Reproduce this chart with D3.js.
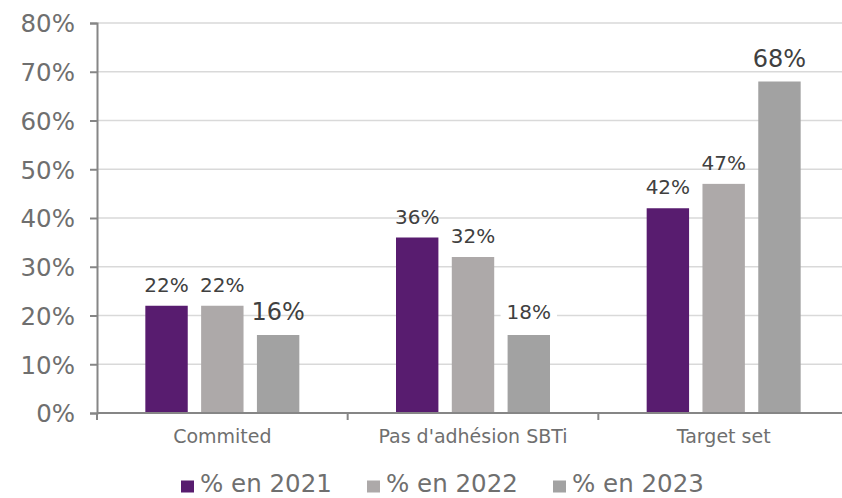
<!DOCTYPE html>
<html><head><meta charset="utf-8">
<script src="https://cdn.jsdelivr.net/npm/d3@7"></script>
<style>body{margin:0;background:#fff}svg{display:block}text{font-family:"DejaVu Sans",Verdana,sans-serif}</style>
</head><body><svg id="c" width="842" height="498"></svg>
<script>
const categories = ["Commited", "Pas d'adhésion SBTi", "Target set"];
const seriesNames = ["% en 2021", "% en 2022", "% en 2023"];
const values2021 = [22, 36, 42];
const values2022 = [22, 32, 47];
const values2023 = [16, 16, 68];
const labels2021 = ["22%", "36%", "42%"];
const labels2022 = ["22%", "32%", "47%"];
const labels2023 = ["16%", "18%", "68%"];
const yTicks = [0, 10, 20, 30, 40, 50, 60, 70, 80];
const colors = ["#581c6f", "#ada9a9", "#a2a2a2"];

const series = [values2021, values2022, values2023];
const labels = [labels2021, labels2022, labels2023];

const svg = d3.select("#c");
const x0 = 97, x1 = 849, yTop = 23, yBot = 413;
const x = d3.scaleBand().domain(categories).range([x0, x1]).padding(0);
const y = d3.scaleLinear().domain([0, 80]).range([yBot, yTop]);
const inner = d3.scaleBand().domain([0,1,2]).range([0, 154]).paddingInner(0.24).paddingOuter(0);
const groupOffset = (x.bandwidth() - 154) / 2;

// gridlines
svg.append("g").selectAll("line").data(yTicks.slice(1)).join("line")
  .attr("x1", x0).attr("x2", 842).attr("y1", d => y(d)).attr("y2", d => y(d))
  .attr("stroke", "#d9d9d9").attr("stroke-width", 1.5);

// bars
const g = svg.append("g");
series.forEach((vals, si) => {
  g.selectAll(null).data(vals).join("rect")
    .attr("x", (d, i) => x(categories[i]) + groupOffset + inner(si))
    .attr("y", d => y(d))
    .attr("width", inner.bandwidth())
    .attr("height", d => yBot - y(d))
    .attr("fill", colors[si]);
});

// left axis
const yAxis = d3.axisLeft(y).tickValues(yTicks).tickFormat(d => d + "%").tickSize(7).tickPadding(15);
const ya = svg.append("g").attr("transform", `translate(${x0},0)`).call(yAxis);
ya.select(".domain").attr("stroke", "#868686").attr("stroke-width", 2);
ya.selectAll(".tick line").attr("stroke", "#868686").attr("stroke-width", 2);
ya.selectAll(".tick text").attr("fill", "#6f6f6f").style("font-size", "24.5px").attr("dy", "0.36em");

// bottom axis
const xa = svg.append("g").attr("transform", `translate(0,${yBot})`)
  .call(d3.axisBottom(x).tickSize(0).tickPadding(17));
xa.select(".domain").attr("stroke", "#868686").attr("stroke-width", 2).attr("d", `M${x0},0H842`);
xa.selectAll(".tick text").attr("fill", "#6f6f6f").style("font-size", "19px");
const bounds = categories.map(c => x(c)).concat([x1]);
xa.append("g").selectAll("line").data(bounds).join("line")
  .attr("x1", d => d).attr("x2", d => d).attr("y1", 0).attr("y2", 7)
  .attr("stroke", "#868686").attr("stroke-width", 2);

// data labels
const bigLabels = [[false,false,false],[false,false,false],[true,false,true]];
const lg = svg.append("g");
series.forEach((vals, si) => {
  vals.forEach((v, i) => {
    const big = bigLabels[si][i];
    const cx = x(categories[i]) + groupOffset + inner(si) + inner.bandwidth() / 2;
    const t = lg.append("text")
      .attr("x", cx).attr("y", y(v) - (big ? 15 : 14) - (si === 2 && i === 1 ? 2 : 0))
      .attr("text-anchor", "middle").attr("fill", "#404040")
      .style("font-size", big ? "24px" : "20px")
      .text(labels[si][i]);
    if (si === 2 && i === 1) {
      const b = t.node().getBBox();
      lg.insert("rect", () => t.node()).attr("x", b.x - 6).attr("y", b.y).attr("width", b.width + 12).attr("height", b.height).attr("fill", "#fff");
    }
  });
});

// legend
const leg = svg.append("g");
const legX = [181, 367, 553];
seriesNames.forEach((n, i) => {
  leg.append("rect").attr("x", legX[i]).attr("y", 480.5).attr("width", 13).attr("height", 12).attr("fill", colors[i]);
  leg.append("text").attr("x", legX[i] + 19).attr("y", 491.5).attr("fill", "#6f6f6f")
    .style("font-size", "24.5px").text(n);
});
</script></body></html>
